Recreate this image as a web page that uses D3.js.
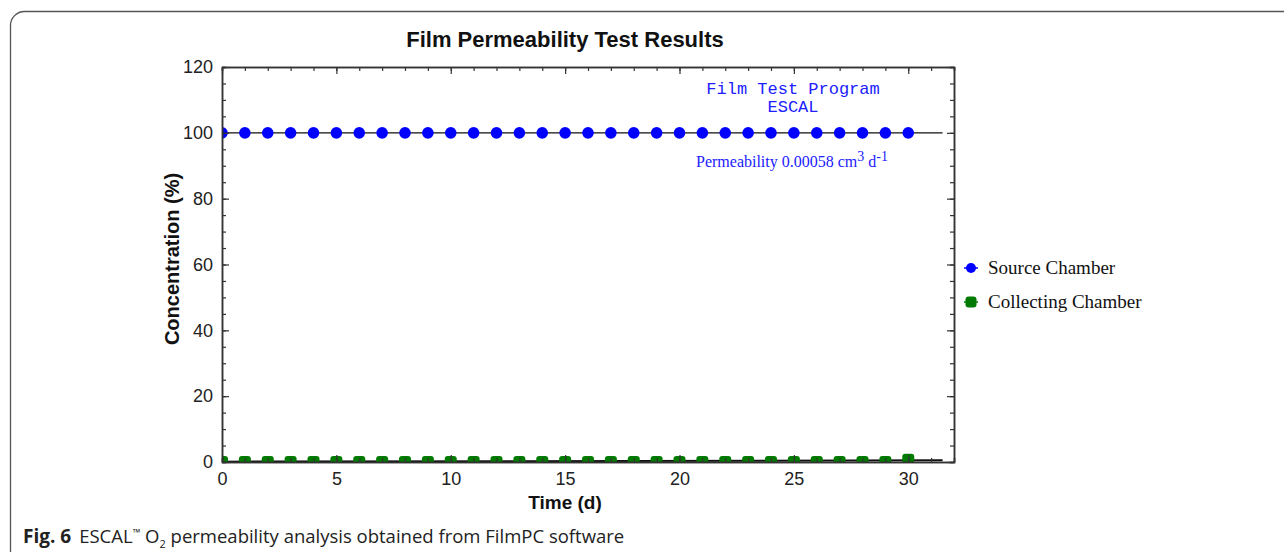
<!DOCTYPE html>
<html>
<head>
<meta charset="utf-8">
<script src="https://cdn.jsdelivr.net/npm/d3@7"></script>
<style>
  body { margin: 0; background: #fff; }
  svg { display: block; }
</style>
</head>
<body>
<svg id="chart" width="1284" height="552"></svg>
<script>
// data
const days = [0, 1, 2, 3, 4, 5, 6, 7, 8, 9, 10, 11, 12, 13, 14, 15, 16, 17, 18, 19, 20, 21, 22, 23, 24, 25, 26, 27, 28, 29, 30];
const sourceChamber = [100, 100, 100, 100, 100, 100, 100, 100, 100, 100, 100, 100, 100, 100, 100, 100,
                       100, 100, 100, 100, 100, 100, 100, 100, 100, 100, 100, 100, 100, 100, 100];
const collectingChamber = [0.15, 0.15, 0.15, 0.15, 0.15, 0.15, 0.15, 0.15, 0.15, 0.15, 0.15, 0.15, 0.15, 0.15, 0.15, 0.15,
                           0.15, 0.15, 0.15, 0.15, 0.15, 0.15, 0.15, 0.15, 0.15, 0.15, 0.15, 0.15, 0.15, 0.15, 0.8];
// model lines run a little past the last sample
const modelDays = [0, 31.5];
const sourceModel = [100, 100];
const collectingModel = [0.1, 0.5];

const xTicks = [0, 5, 10, 15, 20, 25, 30];
const yTicks = [0, 20, 40, 60, 80, 100, 120];
const seriesNames = ["Source Chamber", "Collecting Chamber"];

const svg = d3.select("#chart");

// outer frame of the figure
svg.append("rect")
  .attr("x", 10.5).attr("y", 11.5)
  .attr("width", 1300).attr("height", 600)
  .attr("rx", 14)
  .attr("fill", "none")
  .attr("stroke", "#555")
  .attr("stroke-width", 1.3);

const margin = { left: 222, top: 67, right: 954, bottom: 462 };

const x = d3.scaleLinear().domain([0, 32]).range([margin.left, margin.right]);
const y = d3.scaleLinear().domain([0, 120]).range([margin.bottom, margin.top]);

// clip
svg.append("clipPath").attr("id", "plotclip")
  .append("rect")
  .attr("x", margin.left).attr("y", margin.top)
  .attr("width", margin.right - margin.left)
  .attr("height", margin.bottom - margin.top);

const plot = svg.append("g").attr("clip-path", "url(#plotclip)");

// lines
const line = d3.line().x(d => x(d[0])).y(d => y(d[1]));
plot.append("path")
  .datum(modelDays.map((d, i) => [d, sourceModel[i]]))
  .attr("d", line)
  .attr("stroke", "#111").attr("stroke-width", 1.3).attr("fill", "none");
plot.append("path")
  .datum(modelDays.map((d, i) => [d, collectingModel[i]]))
  .attr("d", line)
  .attr("stroke", "#111").attr("stroke-width", 2).attr("fill", "none");

// source markers
plot.selectAll(".src")
  .data(days.map((d, i) => [d, sourceChamber[i]]))
  .enter()
  .append("circle")
  .attr("class", "src")
  .attr("cx", d => x(d[0]))
  .attr("cy", d => y(d[1]))
  .attr("r", 5.8)
  .attr("fill", "#0000ff");

// collecting markers
plot.selectAll(".col")
  .data(days.map((d, i) => [d, collectingChamber[i]]))
  .enter()
  .append("rect")
  .attr("class", "col")
  .attr("x", d => x(d[0]) - 6)
  .attr("y", d => y(d[1]) - 5.5)
  .attr("width", 12).attr("height", 11)
  .attr("rx", 3)
  .attr("fill", "#007a00");

// axes
const axisColor = "#333";
function styleAxis(g) {
  g.select(".domain").attr("stroke", axisColor).attr("stroke-width", 1.5);
  g.selectAll(".tick line").attr("stroke", axisColor).attr("stroke-width", 1.2);
  g.selectAll("text")
    .attr("fill", "#222")
    .style("font-family", "Liberation Sans, Arial, sans-serif")
    .style("font-size", "18px");
}
const minorX = d3.range(0, 33, 1);
const minorY = d3.range(0, 121, 5);

// bottom
svg.append("g").attr("transform", `translate(0,${margin.bottom})`)
  .call(d3.axisBottom(x).tickValues(minorX).tickSize(-4).tickFormat(""))
  .call(styleAxis);
svg.append("g").attr("transform", `translate(0,${margin.bottom})`)
  .call(d3.axisBottom(x).tickValues(xTicks).tickSizeInner(-7).tickSizeOuter(0).tickPadding(10))
  .call(styleAxis);
// top
svg.append("g").attr("transform", `translate(0,${margin.top})`)
  .call(d3.axisTop(x).tickValues(minorX).tickSize(-4).tickFormat(""))
  .call(styleAxis);
svg.append("g").attr("transform", `translate(0,${margin.top})`)
  .call(d3.axisTop(x).tickValues(xTicks).tickSizeInner(-7).tickSizeOuter(0).tickFormat(""))
  .call(styleAxis);
// left
svg.append("g").attr("transform", `translate(${margin.left},0)`)
  .call(d3.axisLeft(y).tickValues(minorY).tickSize(-4).tickFormat(""))
  .call(styleAxis);
svg.append("g").attr("transform", `translate(${margin.left},0)`)
  .call(d3.axisLeft(y).tickValues(yTicks).tickSizeInner(-7).tickSizeOuter(0).tickPadding(9))
  .call(styleAxis);
// right
svg.append("g").attr("transform", `translate(${margin.right},0)`)
  .call(d3.axisRight(y).tickValues(minorY).tickSize(-4).tickFormat(""))
  .call(styleAxis);
svg.append("g").attr("transform", `translate(${margin.right},0)`)
  .call(d3.axisRight(y).tickValues(yTicks).tickSizeInner(-7).tickSizeOuter(0).tickFormat(""))
  .call(styleAxis);

// titles
svg.append("text")
  .attr("x", 565).attr("y", 47)
  .attr("text-anchor", "middle")
  .style("font-family", "Liberation Sans, Arial, sans-serif")
  .style("font-weight", "bold").style("font-size", "22px")
  .attr("fill", "#111")
  .text("Film Permeability Test Results");

svg.append("text")
  .attr("x", 565).attr("y", 509)
  .attr("text-anchor", "middle")
  .style("font-family", "Liberation Sans, Arial, sans-serif")
  .style("font-weight", "bold").style("font-size", "19px")
  .attr("fill", "#111")
  .text("Time (d)");

svg.append("text")
  .attr("transform", `translate(179,259) rotate(-90)`)
  .attr("text-anchor", "middle")
  .style("font-family", "Liberation Sans, Arial, sans-serif")
  .style("font-weight", "bold").style("font-size", "20px")
  .attr("fill", "#111")
  .text("Concentration (%)");

// annotations in the plot
const mono = "Liberation Mono, Courier New, monospace";
svg.append("text")
  .attr("x", 793).attr("y", 94)
  .attr("text-anchor", "middle")
  .style("font-family", mono).style("font-size", "17px")
  .attr("fill", "#2020ff")
  .text("Film Test Program");
svg.append("text")
  .attr("x", 793).attr("y", 112)
  .attr("text-anchor", "middle")
  .style("font-family", mono).style("font-size", "17px")
  .attr("fill", "#2020ff")
  .text("ESCAL");

const perm = svg.append("text")
  .attr("x", 696).attr("y", 167)
  .style("font-family", "Liberation Serif, Times New Roman, serif")
  .style("font-size", "16px")
  .attr("fill", "#2020ff");
perm.append("tspan").text("Permeability 0.00058 cm");
perm.append("tspan").attr("dy", -6).style("font-size", "14px").text("3");
perm.append("tspan").attr("dy", 6).text(" d");
perm.append("tspan").attr("dy", -6).style("font-size", "14px").text("-1");

// legend
const legend = svg.append("g").attr("transform", "translate(971,268)");
seriesNames.forEach((name, i) => {
  const g = legend.append("g").attr("transform", `translate(0,${i * 34})`);
  g.append("line").attr("x1", -7).attr("x2", 7)
    .attr("stroke", i === 0 ? "#0000ff" : "#007a00").attr("stroke-width", 1.5);
  if (i === 0) {
    g.append("circle").attr("r", 5).attr("fill", "#0000ff");
  } else {
    g.append("rect").attr("x", -5.5).attr("y", -5.5).attr("width", 11).attr("height", 11)
      .attr("rx", 3).attr("fill", "#007a00");
  }
  g.append("text").attr("x", 17).attr("y", 6)
    .style("font-family", "Liberation Serif, Times New Roman, serif")
    .style("font-size", "19px")
    .attr("fill", "#111")
    .text(name);
});

// caption
const cap = svg.append("text")
  .attr("x", 23).attr("y", 543)
  .style("font-family", "Open Sans, sans-serif")
  .style("font-size", "18.5px")
  .attr("fill", "#222");
cap.append("tspan").style("font-weight", "bold").style("font-size", "19px").text("Fig. 6");
cap.append("tspan").attr("dx", 8).text("ESCAL");
cap.append("tspan").attr("dy", -7).style("font-size", "10px").text("™");
cap.append("tspan").attr("dy", 7).text(" O");
cap.append("tspan").attr("dy", 5).style("font-size", "11px").text("2");
cap.append("tspan").attr("dy", -5).text(" permeability analysis obtained from FilmPC software");
</script>
</body>
</html>
